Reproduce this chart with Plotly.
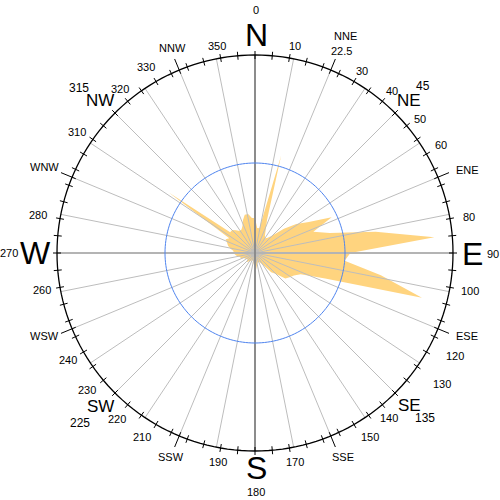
import plotly.graph_objects as go

# ---------------- data ----------------
directions = list(range(0, 360, 5))
frequency = [3.9, 2.8, 2.8, 11.2, 3.9, 2.8, 2.2, 2.0, 2.2, 2.8,
             4.2, 5.6, 6.9, 9.4, 6.9, 8.6, 13.6, 20.0, 10.6, 10.0,
             14.2, 19.2, 8.3, 5.6, 5.0, 4.7, 4.4, 3.3, 2.8, 1.7,
             1.3, 1.1, 1.1, 1.1, 1.3, 1.7, 2.4, 1.3, 1.1, 0.9,
             0.9, 0.9, 1.1, 1.1, 1.3, 1.3, 1.1, 1.1, 1.3, 1.3,
             1.7, 1.7, 2.0, 2.2, 2.4, 2.4, 2.8, 3.1, 3.3, 3.6,
             3.3, 11.7, 3.6, 3.6, 3.3, 3.0, 3.0, 3.3, 3.9, 4.4,
             4.4, 3.9]

grid_angles = [i * 11.25 for i in range(32)]
tick_angles = list(range(0, 360, 5))
long_tick_angles = [22.5, 67.5, 112.5, 157.5, 202.5, 247.5, 292.5, 337.5]

R_OUT = 22.0      # outer compass circle
R_REF = 10.0      # blue reference circle
PX = 9.0          # pixels per unit

cardinal = [("N", 256, 35), ("E", 472, 254), ("S", 256, 468), ("W", 35, 253)]
cardinal_deg = [("0", 256, 10), ("90", 493, 254), ("180", 256, 492), ("270", 9, 253)]
intercardinal = [("NE", 409, 101), ("SE", 409, 405), ("SW", 100, 406), ("NW", 100, 101)]
intercardinal_deg = [("45", 423, 86), ("135", 425, 418), ("225", 80, 423), ("315", 79, 88)]
minor_points = [("NNE", 345, 36), ("ENE", 467, 170), ("ESE", 467, 336), ("SSE", 343, 457),
                ("SSW", 171, 457), ("WSW", 44, 336), ("WNW", 44, 167), ("NNW", 172, 48)]
degree_labels = [("22.5", 341, 51), ("10", 295, 46), ("30", 362, 71), ("40", 392, 91),
                 ("50", 420, 119), ("60", 441, 145), ("80", 469, 217), ("100", 470, 291),
                 ("120", 455, 356), ("130", 442, 384), ("140", 389, 418), ("150", 370, 437),
                 ("170", 295, 462), ("190", 218, 462), ("210", 142, 437), ("220", 117, 419),
                 ("230", 87, 390), ("240", 68, 360), ("260", 42, 290), ("280", 38, 215),
                 ("310", 77, 132), ("320", 120, 89), ("330", 146, 67), ("350", 217, 46)]

fig = go.Figure()

# wind rose polygon
fig.add_trace(go.Scatterpolar(
    r=frequency + [frequency[0]], theta=directions + [directions[0]],
    mode="lines", fill="toself", fillcolor="#FFD47F",
    line=dict(color="#FFD47F", width=0), hoverinfo="skip"))

# radial grid lines
gr, gt = [], []
for a in grid_angles:
    gr += [0, R_OUT, None]
    gt += [a, a, None]
fig.add_trace(go.Scatterpolar(r=gr, theta=gt, mode="lines",
                              line=dict(color="#bdbdbd", width=1), hoverinfo="skip"))

# main axes
fig.add_trace(go.Scatterpolar(r=[R_OUT, R_OUT, None, R_OUT, R_OUT],
                              theta=[90, 270, None, 0, 180], mode="lines",
                              line=dict(color="#b4b4b4", width=2), hoverinfo="skip"))
fig.add_trace(go.Scatterpolar(r=[R_OUT, 0, R_OUT], theta=[0, 0, 180], mode="lines",
                              line=dict(color="#8c8c8c", width=2), hoverinfo="skip"))

# blue reference circle
circ = list(range(0, 361, 2))
fig.add_trace(go.Scatterpolar(r=[R_REF] * len(circ), theta=circ, mode="lines",
                              line=dict(color="#4F84EE", width=1), hoverinfo="skip"))
# outer circle
fig.add_trace(go.Scatterpolar(r=[R_OUT] * len(circ), theta=circ, mode="lines",
                              line=dict(color="black", width=1.3), hoverinfo="skip"))

# ticks
tr, tt = [], []
for a in tick_angles:
    tr += [R_OUT - 4 / PX, R_OUT + 4 / PX, None]
    tt += [a, a, None]
for a in long_tick_angles:
    tr += [R_OUT - 4 / PX, R_OUT + 12 / PX, None]
    tt += [a, a, None]
fig.add_trace(go.Scatterpolar(r=tr, theta=tt, mode="lines", cliponaxis=False,
                              line=dict(color="black", width=1), hoverinfo="skip"))

annotations = []
FONT = "Liberation Sans, Arial, sans-serif"


def add_labels(items, size):
    for text, px, py in items:
        annotations.append(dict(text=text, x=px / 500, y=1 - py / 500, xref="paper", yref="paper",
                                xanchor="center", yanchor="middle", showarrow=False,
                                font=dict(family=FONT, size=size, color="black")))


add_labels(cardinal, 32)
add_labels(cardinal_deg, 11)
add_labels(intercardinal, 17)
add_labels(intercardinal_deg, 12)
add_labels(minor_points, 11)
add_labels(degree_labels, 11)

fig.update_layout(
    width=500, height=500,
    margin=dict(l=0, r=0, t=0, b=0),
    paper_bgcolor="white",
    showlegend=False,
    annotations=annotations,
    polar=dict(
        domain=dict(x=[10 / 500, 500 / 500], y=[2 / 500, 492 / 500]),
        bgcolor="white",
        radialaxis=dict(visible=False, range=[0, 245 / PX]),
        angularaxis=dict(visible=False, direction="clockwise", rotation=90),
    ),
)

fig.write_html("out.html", config={"displayModeBar": False},
               post_script="document.body.style.margin='0';")
